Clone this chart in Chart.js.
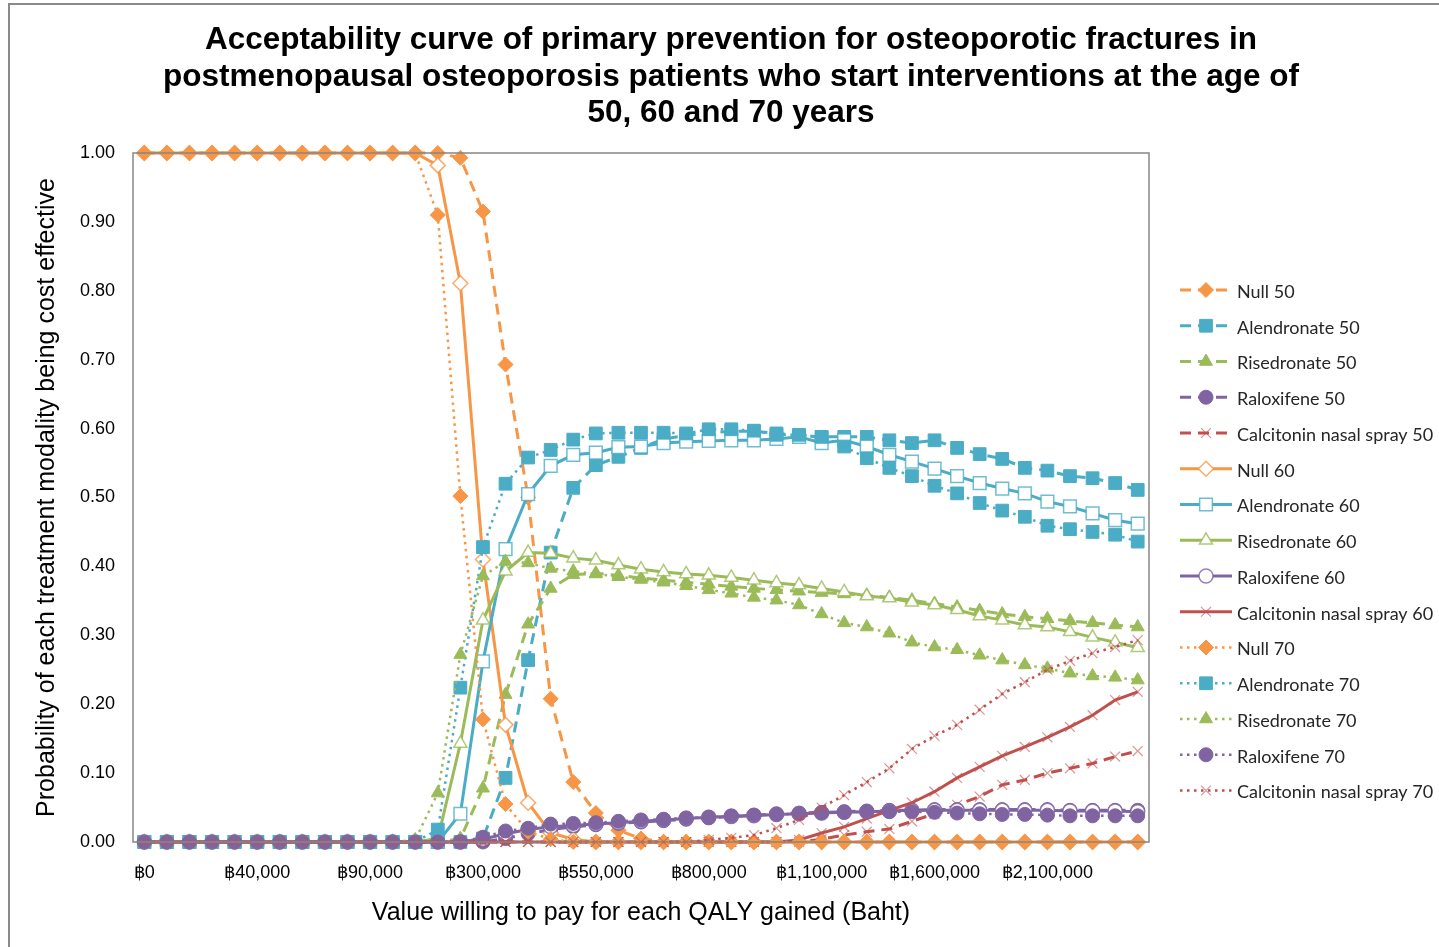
<!DOCTYPE html>
<html>
<head>
<meta charset="utf-8">
<script src="https://cdn.jsdelivr.net/npm/chart.js@4.4.1/dist/chart.umd.min.js"></script>
<style>
  html, body { margin: 0; padding: 0; background: #fff; overflow: hidden; }
  #wrap { position: absolute; left: 0; top: 0; width: 1439px; height: 947px; }
  #frame { position: absolute; left: 8px; top: 3px; width: 1500px; height: 1000px; border: 2px solid #8a8a8a; pointer-events: none; }
</style>
</head>
<body>
<div id="wrap"><canvas id="myChart" width="1439" height="947"></canvas></div>
<div id="frame"></div>
<script>
// willingness-to-pay thresholds (Baht), one per point
const wtp = [0, 5000, 10000, 20000, 30000, 40000, 50000, 60000, 70000, 80000,
  90000, 100000, 150000, 200000, 250000, 300000, 350000, 400000, 450000, 500000,
  550000, 600000, 650000, 700000, 750000, 800000, 850000, 900000, 950000, 1000000,
  1100000, 1200000, 1300000, 1400000, 1500000, 1600000, 1700000, 1800000, 1900000, 2000000,
  2100000, 2200000, 2300000, 2400000, 2500000];

const titleLines = [
  'Acceptability curve of primary prevention for osteoporotic fractures in',
  'postmenopausal osteoporosis patients who start interventions at the age of',
  '50, 60 and 70 years'
];
const yTitle = 'Probability of each treatment modality being cost effective';
const xTitle = 'Value willing to pay for each QALY gained (Baht)';

const null50 = [1, 1, 1, 1, 1, 1, 1, 1, 1, 1, 1, 1, 1, 1, 0.993, 0.915, 0.693, 0.50, 0.208, 0.087,
  0.042, 0.017, 0.005, 0, 0, 0, 0, 0, 0, 0, 0, 0, 0, 0, 0, 0, 0, 0, 0, 0, 0, 0, 0, 0, 0];
const alen50 = [0, 0, 0, 0, 0, 0, 0, 0, 0, 0, 0, 0, 0, 0, 0, 0.005, 0.093, 0.264, 0.42, 0.514,
  0.547, 0.559, 0.572, 0.585, 0.59, 0.594, 0.596, 0.596, 0.593, 0.59, 0.588, 0.588, 0.588, 0.583, 0.579,
  0.583, 0.572, 0.563, 0.556, 0.543, 0.539, 0.531, 0.528, 0.521, 0.511];
const rise50 = [0, 0, 0, 0, 0, 0, 0, 0, 0, 0, 0, 0, 0, 0, 0.005, 0.078, 0.214, 0.316, 0.368, 0.388,
  0.39, 0.387, 0.383, 0.38, 0.377, 0.374, 0.371, 0.368, 0.366, 0.364, 0.362, 0.36, 0.358, 0.355, 0.351,
  0.346, 0.341, 0.336, 0.331, 0.327, 0.324, 0.321, 0.318, 0.315, 0.312];
const ralo50 = [0, 0, 0, 0, 0, 0, 0, 0, 0, 0, 0, 0, 0, 0, 0, 0, 0.005, 0.012, 0.018, 0.022,
  0.025, 0.027, 0.029, 0.031, 0.033, 0.035, 0.037, 0.039, 0.041, 0.042, 0.043, 0.044, 0.045, 0.046, 0.046,
  0.047, 0.047, 0.047, 0.047, 0.047, 0.047, 0.046, 0.046, 0.046, 0.046];
const calc50 = [0, 0, 0, 0, 0, 0, 0, 0, 0, 0, 0, 0, 0, 0, 0, 0, 0, 0, 0, 0,
  0, 0, 0, 0, 0, 0, 0, 0, 0, 0, 0.004, 0.01, 0.015, 0.019, 0.03,
  0.041, 0.054, 0.066, 0.083, 0.09, 0.1, 0.107, 0.114, 0.124, 0.132];

const null60 = [1, 1, 1, 1, 1, 1, 1, 1, 1, 1, 1, 1, 1, 0.982, 0.811, 0.41, 0.17, 0.057, 0.013, 0.004,
  0, 0, 0, 0, 0, 0, 0, 0, 0, 0, 0, 0, 0, 0, 0, 0, 0, 0, 0, 0, 0, 0, 0, 0, 0];
const alen60 = [0, 0, 0, 0, 0, 0, 0, 0, 0, 0, 0, 0, 0, 0, 0.041, 0.262, 0.425, 0.505, 0.546, 0.562,
  0.565, 0.573, 0.574, 0.579, 0.581, 0.582, 0.583, 0.583, 0.585, 0.588, 0.579, 0.583, 0.574, 0.562, 0.552,
  0.542, 0.531, 0.521, 0.513, 0.506, 0.494, 0.487, 0.477, 0.467, 0.462];
const rise60 = [0, 0, 0, 0, 0, 0, 0, 0, 0, 0, 0, 0, 0, 0.005, 0.143, 0.322, 0.393, 0.42, 0.419, 0.412,
  0.409, 0.402, 0.396, 0.392, 0.389, 0.387, 0.384, 0.38, 0.376, 0.373, 0.368, 0.363, 0.357, 0.354, 0.348,
  0.344, 0.337, 0.328, 0.322, 0.315, 0.312, 0.305, 0.297, 0.29, 0.282];
const ralo60 = [0, 0, 0, 0, 0, 0, 0, 0, 0, 0, 0, 0, 0, 0, 0, 0.004, 0.012, 0.018, 0.022, 0.024,
  0.026, 0.028, 0.03, 0.032, 0.034, 0.036, 0.037, 0.038, 0.04, 0.041, 0.042, 0.043, 0.044, 0.045, 0.046,
  0.046, 0.046, 0.046, 0.046, 0.046, 0.046, 0.045, 0.045, 0.045, 0.044];
const calc60 = [0, 0, 0, 0, 0, 0, 0, 0, 0, 0, 0, 0, 0, 0, 0, 0, 0, 0, 0, 0,
  0, 0, 0, 0, 0, 0, 0, 0, 0, 0.003, 0.013, 0.022, 0.034, 0.046, 0.057,
  0.073, 0.093, 0.109, 0.125, 0.138, 0.152, 0.167, 0.184, 0.206, 0.218];

const null70 = [1, 1, 1, 1, 1, 1, 1, 1, 1, 1, 1, 1, 1, 0.91, 0.502, 0.178, 0.055, 0.015, 0.004, 0,
  0, 0, 0, 0, 0, 0, 0, 0, 0, 0, 0, 0, 0, 0, 0, 0, 0, 0, 0, 0, 0, 0, 0, 0, 0];
const alen70 = [0, 0, 0, 0, 0, 0, 0, 0, 0, 0, 0, 0, 0, 0.018, 0.224, 0.428, 0.52, 0.558, 0.569, 0.584,
  0.593, 0.594, 0.594, 0.594, 0.593, 0.599, 0.599, 0.597, 0.591, 0.591, 0.588, 0.574, 0.557, 0.543, 0.531,
  0.517, 0.506, 0.492, 0.481, 0.472, 0.459, 0.454, 0.45, 0.446, 0.436];
const rise70 = [0, 0, 0, 0, 0, 0, 0, 0, 0, 0, 0, 0, 0.003, 0.071, 0.272, 0.386, 0.407, 0.405, 0.397, 0.393,
  0.389, 0.385, 0.381, 0.377, 0.372, 0.366, 0.361, 0.355, 0.351, 0.344, 0.331, 0.318, 0.312, 0.303, 0.29,
  0.283, 0.279, 0.271, 0.264, 0.257, 0.252, 0.245, 0.241, 0.239, 0.235];
const ralo70 = [0, 0, 0, 0, 0, 0, 0, 0, 0, 0, 0, 0, 0, 0, 0, 0.007, 0.016, 0.02, 0.026, 0.027,
  0.028, 0.03, 0.032, 0.033, 0.035, 0.036, 0.038, 0.039, 0.04, 0.041, 0.042, 0.043, 0.044, 0.044, 0.044,
  0.043, 0.042, 0.041, 0.04, 0.04, 0.039, 0.038, 0.038, 0.038, 0.038];
const calc70 = [0, 0, 0, 0, 0, 0, 0, 0, 0, 0, 0, 0, 0, 0, 0, 0, 0, 0, 0, 0,
  0, 0, 0, 0, 0, 0.003, 0.006, 0.01, 0.02, 0.032, 0.05, 0.068, 0.087, 0.107, 0.135,
  0.154, 0.17, 0.192, 0.215, 0.232, 0.25, 0.263, 0.274, 0.283, 0.293];

const ORANGE = '#F79646', BLUE = '#4BACC6', GREEN = '#9BBB59', PURPLE = '#8064A2', RED = '#C0504D';
const DASHED = [11, 7];
const DOTTED = [2.5, 4.5];

// marker per drug: [pointStyle, radius]
const markers = {
  Null: ['rectRot', 7.5],
  Alendronate: ['rect', 9],
  Risedronate: ['triangle', 7.5],
  Raloxifene: ['circle', 7],
  'Calcitonin nasal spray': ['crossRot', 7]
};

function series(drug, age, data, color) {
  const [style, r] = markers[drug];
  const isCross = style === 'crossRot';
  const hollow = age === 60;
  return {
    label: drug + ' ' + age,
    data: data,
    borderColor: color,
    borderWidth: age === 70 ? 2.5 : 3,
    borderDash: age === 50 ? DASHED : (age === 70 ? DOTTED : []),
    tension: 0,
    fill: false,
    pointStyle: style,
    pointRadius: r,
    pointBackgroundColor: hollow && !isCross ? '#ffffff' : color,
    pointBorderColor: isCross ? 'rgba(192,80,77,0.6)' : (hollow ? color + 'CC' : color),
    pointBorderWidth: isCross ? 1.2 : (hollow ? 1.5 : 1),
    clip: false
  };
}

const datasets = [
  series('Null', 50, null50, ORANGE),
  series('Alendronate', 50, alen50, BLUE),
  series('Risedronate', 50, rise50, GREEN),
  series('Raloxifene', 50, ralo50, PURPLE),
  series('Calcitonin nasal spray', 50, calc50, RED),
  series('Null', 60, null60, ORANGE),
  series('Alendronate', 60, alen60, BLUE),
  series('Risedronate', 60, rise60, GREEN),
  series('Raloxifene', 60, ralo60, PURPLE),
  series('Calcitonin nasal spray', 60, calc60, RED),
  series('Null', 70, null70, ORANGE),
  series('Alendronate', 70, alen70, BLUE),
  series('Risedronate', 70, rise70, GREEN),
  series('Raloxifene', 70, ralo70, PURPLE),
  series('Calcitonin nasal spray', 70, calc70, RED)
];
// excel draws the first series first, so later ones end up on top
datasets.forEach((d, i) => { d.order = -i; });

function drawMarker(ctx, ds, x, y) {
  ctx.save();
  ctx.setLineDash([]);
  ctx.fillStyle = ds.pointBackgroundColor;
  ctx.strokeStyle = ds.pointBorderColor;
  ctx.lineWidth = ds.pointBorderWidth;
  if (Chart.helpers && Chart.helpers.drawPoint) {
    Chart.helpers.drawPoint(ctx, { pointStyle: ds.pointStyle, radius: ds.pointRadius, borderWidth: ds.pointBorderWidth, rotation: 0 }, x, y);
  } else {
    ctx.beginPath();
    ctx.arc(x, y, ds.pointRadius, 0, Math.PI * 2);
    ctx.fill();
    ctx.stroke();
  }
  ctx.restore();
}

const decorations = {
  id: 'decorations',
  afterDraw(chart) {
    const ctx = chart.ctx;
    const a = chart.chartArea;
    ctx.save();
    // plot area frame
    ctx.strokeStyle = '#868686';
    ctx.lineWidth = 1.5;
    ctx.strokeRect(a.left, a.top, a.right - a.left, a.bottom - a.top);

    // title
    ctx.fillStyle = '#000';
    ctx.font = 'bold 31.5px "Liberation Sans", Arial, sans-serif';
    ctx.textAlign = 'center';
    ctx.textBaseline = 'middle';
    const ty = [40, 77, 113];
    titleLines.forEach((t, i) => ctx.fillText(t, 731, ty[i]));

    // legend
    ctx.font = '18px Lato, "Open Sans", sans-serif';
    ctx.textAlign = 'left';
    chart.data.datasets.forEach((ds, i) => {
      const y = 290 + i * 35.75;
      ctx.save();
      ctx.strokeStyle = ds.borderColor;
      ctx.lineWidth = ds.borderWidth;
      ctx.setLineDash(ds.borderDash);
      ctx.beginPath();
      ctx.moveTo(1180, y);
      ctx.lineTo(1232, y);
      ctx.stroke();
      ctx.restore();
      drawMarker(ctx, ds, 1206, y);
      ctx.fillStyle = '#262626';
      ctx.fillText(ds.label, 1237, y + 2);
    });
    ctx.restore();
  }
};

const labels = wtp.map(v => '\u0E3F' + v.toLocaleString('en-US'));

new Chart(document.getElementById('myChart'), {
  type: 'line',
  data: { labels: labels, datasets: datasets },
  options: {
    responsive: false,
    animation: false,
    events: [],
    layout: { padding: { left: 0, right: 290, top: 153, bottom: 0 } },
    plugins: {
      legend: { display: false },
      tooltip: { enabled: false },
      title: { display: false }
    },
    scales: {
      x: {
        type: 'category',
        offset: true,
        grid: { display: false },
        border: { display: false },
        ticks: {
          autoSkip: false,
          maxRotation: 0,
          minRotation: 0,
          padding: 12,
          color: '#000',
          font: { family: '"Liberation Sans", Arial, sans-serif', size: 18 },
          callback: function (val, i) { return i % 5 === 0 ? this.getLabelForValue(val) : ''; }
        },
        title: {
          display: true,
          text: xTitle,
          color: '#000',
          font: { family: '"Liberation Sans", Arial, sans-serif', size: 25 },
          padding: { top: 0, bottom: 19 }
        },
        afterFit(scale) { scale.height = 105; }
      },
      y: {
        min: 0,
        max: 1,
        grid: { display: false },
        border: { display: false },
        ticks: {
          stepSize: 0.1,
          padding: 10,
          color: '#000',
          font: { family: '"Liberation Sans", Arial, sans-serif', size: 18 },
          callback: v => v.toFixed(2)
        },
        title: {
          display: true,
          text: yTitle,
          color: '#000',
          font: { family: '"Liberation Sans", Arial, sans-serif', size: 25 },
          padding: { top: 32, bottom: 0 }
        },
        afterFit(scale) { scale.width = 133; }
      }
    }
  },
  plugins: [decorations]
});
</script>
</body>
</html>
